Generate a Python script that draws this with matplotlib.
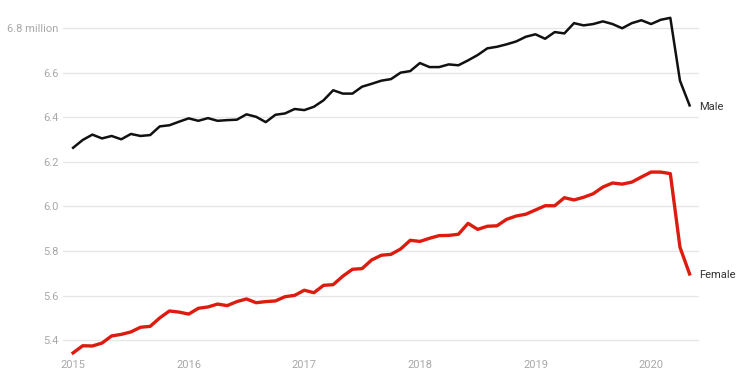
import matplotlib.pyplot as plt

plt.rcParams['font.family'] = ['Roboto', 'DejaVu Sans']

# monthly, Jan 2015 .. May 2020 (millions employed)
start_year = 2015
male = [6.263, 6.298, 6.322, 6.305, 6.316, 6.301, 6.325, 6.316, 6.320, 6.359,
        6.364, 6.380, 6.395, 6.384, 6.396, 6.384, 6.387, 6.389, 6.413, 6.402,
        6.378, 6.411, 6.417, 6.437, 6.432, 6.447, 6.476, 6.521, 6.506, 6.506,
        6.537, 6.550, 6.564, 6.571, 6.600, 6.607, 6.643, 6.625, 6.625, 6.637,
        6.633, 6.655, 6.679, 6.709, 6.716, 6.727, 6.740, 6.761, 6.772, 6.752,
        6.782, 6.776, 6.822, 6.812, 6.818, 6.830, 6.818, 6.799, 6.822, 6.835,
        6.818, 6.837, 6.846, 6.564, 6.453]
female = [5.343, 5.375, 5.374, 5.387, 5.419, 5.426, 5.437, 5.458, 5.462, 5.500,
          5.531, 5.526, 5.517, 5.543, 5.549, 5.562, 5.555, 5.573, 5.585, 5.568,
          5.573, 5.576, 5.595, 5.601, 5.624, 5.613, 5.646, 5.649, 5.687, 5.718,
          5.721, 5.760, 5.781, 5.785, 5.809, 5.848, 5.843, 5.857, 5.869, 5.870,
          5.875, 5.924, 5.897, 5.911, 5.913, 5.942, 5.957, 5.965, 5.984, 6.003,
          6.003, 6.039, 6.029, 6.041, 6.057, 6.087, 6.105, 6.100, 6.109, 6.132,
          6.154, 6.154, 6.147, 5.817, 5.697]
years = [2015, 2016, 2017, 2018, 2019, 2020]
y_ticks = [5.4, 5.6, 5.8, 6.0, 6.2, 6.4, 6.6, 6.8]
y_labels = ['5.4', '5.6', '5.8', '6.0', '6.2', '6.4', '6.6', '6.8 million']

x = [start_year + i / 12 for i in range(len(male))]

fig = plt.figure(figsize=(7.54, 3.86), dpi=100)
ax = fig.add_axes([0.0836, 0.0777, 0.8435, 0.8964])

ax.plot(x, male, color='#111111', lw=1.8, solid_joinstyle='round', clip_on=False)
ax.plot(x, female, color='#dd1c0f', lw=2.4, solid_joinstyle='round', clip_on=False)

ax.text(x[-1] + 0.08, male[-1] - 0.005, 'Male', fontsize=8, color='#333333', va='center', ha='left')
ax.text(x[-1] + 0.08, female[-1] - 0.005, 'Female', fontsize=8, color='#333333', va='center', ha='left')

ax.set_xlim(2014.913, 2020.415)
ax.set_ylim(5.329, 6.881)
ax.set_xticks(years)
ax.set_xticklabels([str(y) for y in years])
ax.set_yticks(y_ticks)
ax.set_yticklabels(y_labels)
ax.tick_params(length=0, labelsize=8, labelcolor='#a8a8a8')
ax.tick_params(axis='y', pad=3)
ax.tick_params(axis='x', pad=3)
ax.grid(axis='y', color='#e6e6e6', lw=0.9)
ax.set_axisbelow(True)
for s in ax.spines.values():
    s.set_visible(False)

fig.savefig('out.png', dpi=100)
